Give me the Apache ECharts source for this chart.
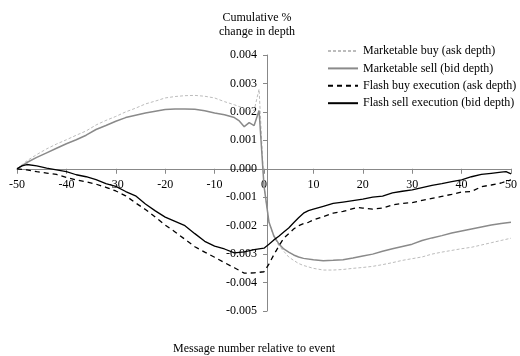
<!DOCTYPE html>
<html>
<head>
<meta charset="utf-8">
<script src="https://cdn.jsdelivr.net/npm/echarts@6/dist/echarts.min.js"></script>
<style>html,body{margin:0;padding:0;background:#fff}#c{width:520px;height:356px}</style>
</head>
<body>
<div id="c"></div>
<script>
var seriesNames = ['Marketable buy (ask depth)', 'Marketable sell (bid depth)', 'Flash buy execution (ask depth)', 'Flash sell execution (bid depth)'];
var xTicks = { min: -50, max: 50, interval: 10 };
var yTicks = { min: -0.005, max: 0.004, interval: 0.001 };

var marketableBuy = [
  [-50,0],[-48,0.00028],[-46,0.0005],[-44,0.0007],[-42,0.00087],[-40,0.00102],[-38,0.00118],[-36,0.00133],[-34,0.00154],[-32,0.0017],
  [-30,0.00184],[-28,0.002],[-26,0.00213],[-24,0.00228],[-22,0.00238],[-20,0.00249],[-18,0.00254],[-16,0.00257],[-14,0.00258],[-12,0.00255],
  [-10,0.00249],[-8,0.00236],[-6,0.00225],[-4,0.00212],[-3,0.00208],[-2,0.00205],[-1,0.0028],[0,-0.0006],
  [1,-0.00187],[2,-0.0024],[3,-0.0027],[4,-0.0029],[5,-0.0031],[6,-0.00322],[7,-0.00333],[8,-0.0034],[10,-0.0035],[12,-0.00356],
  [14,-0.00356],[16,-0.00354],[18,-0.0035],[20,-0.00347],[22,-0.00343],[24,-0.00337],[26,-0.0033],[28,-0.00322],[30,-0.00316],[32,-0.0031],
  [34,-0.003],[36,-0.00293],[38,-0.00287],[40,-0.00281],[42,-0.00276],[44,-0.00268],[46,-0.0026],[48,-0.00252],[50,-0.00244]
];
var marketableSell = [
  [-50,0],[-48,0.00022],[-46,0.0004],[-44,0.00056],[-42,0.00072],[-40,0.00088],[-38,0.00102],[-36,0.00118],[-34,0.00138],[-32,0.00152],
  [-30,0.00167],[-28,0.0018],[-26,0.00188],[-24,0.00196],[-22,0.00202],[-20,0.00208],[-18,0.0021],[-16,0.0021],[-14,0.00209],[-12,0.00204],
  [-10,0.00196],[-8,0.0019],[-6,0.0018],[-5,0.00168],[-4,0.00148],[-3,0.00162],[-2,0.00152],[-1,0.00205],[0,-0.0006],
  [1,-0.00187],[2,-0.00236],[3,-0.00264],[4,-0.00282],[5,-0.00293],[6,-0.00303],[7,-0.0031],[8,-0.00315],[10,-0.0032],[12,-0.00323],
  [14,-0.00322],[16,-0.0032],[18,-0.00314],[20,-0.00307],[22,-0.003],[24,-0.0029],[26,-0.00281],[28,-0.00273],[30,-0.00265],[32,-0.00252],
  [34,-0.00243],[36,-0.00235],[38,-0.00226],[40,-0.00219],[42,-0.00212],[44,-0.00205],[46,-0.00198],[48,-0.00192],[50,-0.00188]
];
var flashBuy = [
  [-50,0],[-48,-0.00004],[-46,-0.0001],[-44,-0.00015],[-42,-0.0002],[-40,-0.0003],[-38,-0.00039],[-36,-0.00046],[-34,-0.00054],[-32,-0.00065],
  [-30,-0.00078],[-28,-0.00095],[-26,-0.0012],[-24,-0.00143],[-22,-0.0017],[-20,-0.00198],[-18,-0.00222],[-16,-0.00248],[-14,-0.00274],[-12,-0.00293],
  [-10,-0.00311],[-8,-0.0033],[-6,-0.00348],[-4,-0.00367],[-2,-0.00366],[0,-0.00362],[1,-0.00335],[2,-0.00302],[3,-0.00272],[4,-0.00244],
  [5,-0.00228],[6,-0.00212],[7,-0.002],[8,-0.00193],[9,-0.00188],[10,-0.0018],[12,-0.00168],[14,-0.00156],[16,-0.0015],[18,-0.0014],
  [19,-0.00136],[20,-0.00138],[22,-0.00142],[24,-0.00138],[26,-0.00127],[28,-0.00122],[30,-0.00119],[32,-0.00111],[34,-0.00104],[36,-0.00097],
  [38,-0.0009],[40,-0.00082],[42,-0.0008],[44,-0.00063],[46,-0.00057],[48,-0.0005],[50,-0.00039]
];
var flashSell = [
  [-50,0],[-49,0.0001],[-48,0.00015],[-46,0.0001],[-44,0.00002],[-42,-0.00004],[-40,-0.0001],[-38,-0.00021],[-36,-0.00028],[-34,-0.00038],
  [-32,-0.00052],[-30,-0.00062],[-28,-0.0008],[-26,-0.00095],[-24,-0.00124],[-22,-0.00148],[-20,-0.0017],[-18,-0.00185],[-16,-0.002],[-14,-0.00228],
  [-12,-0.00255],[-10,-0.00272],[-8,-0.00282],[-6,-0.00296],[-4,-0.00292],[-2,-0.00284],[0,-0.00279],[1,-0.00265],[2,-0.0025],[3,-0.00237],
  [4,-0.00222],[5,-0.00208],[6,-0.0019],[7,-0.00172],[8,-0.00156],[9,-0.00147],[10,-0.00142],[12,-0.00132],[14,-0.00122],[16,-0.00117],
  [18,-0.00112],[20,-0.00107],[22,-0.001],[24,-0.00096],[26,-0.00085],[28,-0.00079],[30,-0.00074],[32,-0.00066],[34,-0.00058],[36,-0.00052],
  [38,-0.00045],[40,-0.00039],[42,-0.00028],[44,-0.0002],[46,-0.00016],[48,-0.00012],[49,-0.0001],[50,-0.00018]
];

var FONT = "'Liberation Serif', 'Times New Roman', serif";
var GRID = { left: 17, right: 3, top: 55, bottom: 45 };
var W = 520, H = 356;
var plotW = W - GRID.left - GRID.right, plotH = H - GRID.top - GRID.bottom;
// offsets that move each axis onto the other axis' zero
var xAxisOffset = -plotH * (0 - yTicks.min) / (yTicks.max - yTicks.min);
var yAxisOffset = -plotW * (0 - xTicks.min) / (xTicks.max - xTicks.min);

var chart = echarts.init(document.getElementById('c'));
chart.setOption({
  animation: false,
  textStyle: { fontFamily: FONT },
  grid: { left: GRID.left, right: GRID.right, top: GRID.top, bottom: GRID.bottom, containLabel: false },
  graphic: [
    { type: 'text', x: 257, y: 17.5, style: { text: 'Cumulative %', font: '12px ' + FONT, fill: '#000', align: 'center', verticalAlign: 'middle' } },
    { type: 'text', x: 257, y: 31.5, style: { text: 'change in depth', font: '12px ' + FONT, fill: '#000', align: 'center', verticalAlign: 'middle' } },
    { type: 'text', x: 254, y: 349, style: { text: 'Message number relative to event', font: '12px ' + FONT, fill: '#000', align: 'center', verticalAlign: 'middle' } }
  ],
  legend: {
    orient: 'vertical', left: 327, top: 45, padding: 0,
    itemWidth: 30, itemHeight: 12, itemGap: 5.4,
    itemStyle: { opacity: 0, borderWidth: 0 },
    textStyle: { fontFamily: FONT, fontSize: 12, color: '#000' },
    data: seriesNames
  },
  xAxis: {
    type: 'value', min: xTicks.min, max: xTicks.max, interval: xTicks.interval,
    position: 'bottom', offset: xAxisOffset,
    axisLine: { show: true, onZero: false, lineStyle: { color: '#888', width: 1 } },
    axisTick: { show: true, inside: false, length: 5, lineStyle: { color: '#888' } },
    axisLabel: { margin: 10, fontFamily: FONT, fontSize: 12, color: '#000' },
    splitLine: { show: false }
  },
  yAxis: {
    type: 'value', min: yTicks.min, max: yTicks.max, interval: yTicks.interval,
    position: 'left', offset: yAxisOffset,
    axisLine: { show: true, onZero: false, lineStyle: { color: '#888', width: 1 } },
    axisTick: { show: true, inside: false, length: 4, lineStyle: { color: '#888' } },
    axisLabel: { margin: 10, fontFamily: FONT, fontSize: 12, color: '#000', formatter: function (v) { return (Math.abs(v) < 1e-9 ? 0 : v).toFixed(3); } },
    splitLine: { show: false }
  },
  series: [
    { name: seriesNames[0], type: 'line', data: marketableBuy, symbol: 'none', lineStyle: { color: '#bcbcbc', width: 1, type: [3, 2] }, itemStyle: { color: '#bcbcbc' }, z: 2 },
    { name: seriesNames[1], type: 'line', data: marketableSell, symbol: 'none', lineStyle: { color: '#8a8a8a', width: 1.5, type: 'solid' }, itemStyle: { color: '#8a8a8a' }, z: 3 },
    { name: seriesNames[2], type: 'line', data: flashBuy, symbol: 'none', lineStyle: { color: '#000', width: 1.3, type: [5, 4] }, itemStyle: { color: '#000' }, z: 4 },
    { name: seriesNames[3], type: 'line', data: flashSell, symbol: 'none', lineStyle: { color: '#000', width: 1.3, type: 'solid' }, itemStyle: { color: '#000' }, z: 5 }
  ]
});
</script>
</body>
</html>
